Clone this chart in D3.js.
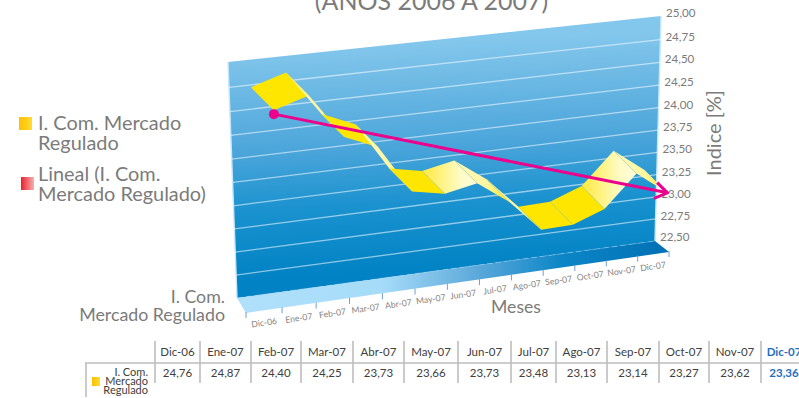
<!DOCTYPE html>
<html>
<head>
<meta charset="utf-8">
<script src="https://cdn.jsdelivr.net/npm/d3@7"></script>
<style>
html,body{margin:0;padding:0;background:#fff;overflow:hidden}
svg{display:block}
text{font-family:Lato,"Open Sans",sans-serif}
</style>
</head>
<body>
<svg id="chart" width="799" height="398"></svg>
<script>
// Monthly index values
const months = ["Dic-06","Ene-07","Feb-07","Mar-07","Abr-07","May-07","Jun-07","Jul-07","Ago-07","Sep-07","Oct-07","Nov-07","Dic-07"];
const values = [24.76,24.87,24.40,24.25,23.73,23.66,23.73,23.48,23.13,23.14,23.27,23.62,23.36];
const valueLabels = ["24,76","24,87","24,40","24,25","23,73","23,66","23,73","23,48","23,13","23,14","23,27","23,62","23,36"];
const yTicks = [25,24.75,24.5,24.25,24,23.75,23.5,23.25,23,22.75,22.5];
const trendEnds = [24.72,23.36];

const svg = d3.select("#chart");
const defs = svg.append("defs");
const GREY = "#7b7b7b";

// Perspective of the chart box: back wall, floor, and ribbon depth
const yMax = 25, yMin = 22.5;
const uScale = d3.scalePow().exponent(.96).domain([0,13]).range([0,1]);
const leftY = d3.scalePow().exponent(.97).domain([0,yMax-yMin]).range([62,298]);
const rightY = d3.scalePow().exponent(.98).domain([0,yMax-yMin]).range([16,241]);
const leftX = d3.scaleLinear().domain([yMax,yMin]).range([228,237]);
const rightX = d3.scaleLinear().domain([yMax,yMin]).range([661,655]);
const depth = d3.scaleLinear().domain([0,1]).range([0,26]);
const frontX = d3.scalePow().exponent(.96).domain([0,13]).range([246,669]);
const frontY = d3.scaleLinear().domain([0,13]).range([313,252]);

function project(i,v,z=0){
  const u = uScale(i), d = yMax-v;
  const xl = leftX(v), xr = rightX(v);
  return [xl+(xr-xl)*u+depth(z), leftY(d)+(rightY(d)-leftY(d))*u+depth(z)];
}
const poly = pts => "M"+pts.map(p=>p.join(",")).join("L")+"Z";

function linGrad(id,attrs,stops){
  const g = defs.append("linearGradient").attr("id",id);
  Object.entries(attrs).forEach(([k,v])=>g.attr(k,v));
  stops.forEach(([o,c])=>g.append("stop").attr("offset",o).attr("stop-color",c));
}
linGrad("wallFill",{gradientUnits:"userSpaceOnUse",x1:440,y1:40,x2:450,y2:272},
  [[0,"#84c7ec"],[.45,"#4ba5da"],[.7,"#1a92cf"],[1,"#0082c4"]]);
linGrad("floorFill",{gradientUnits:"userSpaceOnUse",x1:240,y1:0,x2:669,y2:0},
  [[0,"#b0e0fb"],[.33,"#a6dcf9"],[.55,"#5da9da"],[.75,"#0c86c7"],[1,"#0070b4"]]);
linGrad("rising",{},[[0,"#ffe93c"],[.7,"#fffbc6"],[1,"#fffcd8"]]);
linGrad("falling",{},[[0,"#fff9bc"],[.6,"#fff6a0"],[1,"#ffe600"]]);
linGrad("swatchBar",{},[[0,"#ffbf00"],[1,"#ffdc30"]]);
linGrad("swatchLine",{},[[0,"#e9202c"],[1,"#f8b0b0"]]);

// Back wall
const wall = [project(0,yMax),project(13,yMax),project(13,yMin),project(0,yMin)];
svg.append("path").attr("d",poly(wall)).attr("fill","url(#wallFill)");
defs.append("clipPath").attr("id","wallClip").append("path").attr("d",poly(wall));

// Floor
const floorPts = [project(0,yMin),project(13,yMin),[frontX(13),frontY(13)],[frontX(0),frontY(0)]];
svg.append("path").attr("d",poly(floorPts)).attr("fill","url(#floorFill)");

// Wall edges
svg.selectAll("line.edge").data([0,13]).join("line").attr("class","edge")
  .attr("x1",i=>project(i,yMax)[0]).attr("y1",i=>project(i,yMax)[1])
  .attr("x2",i=>project(i,yMin)[0]).attr("y2",i=>project(i,yMin)[1])
  .attr("stroke","#c4e8fb").attr("stroke-width",1.4);

// Gridlines
svg.selectAll("line.grid").data(yTicks.slice(1,-1)).join("line").attr("class","grid")
  .attr("x1",v=>project(0,v)[0]).attr("y1",v=>project(0,v)[1])
  .attr("x2",v=>project(13,v)[0]).attr("y2",v=>project(13,v)[1])
  .attr("stroke","#fff").attr("stroke-opacity",.55).attr("stroke-width",1.3);
svg.append("line")
  .attr("x1",project(0,yMin)[0]).attr("y1",project(0,yMin)[1])
  .attr("x2",project(13,yMin)[0]).attr("y2",project(13,yMin)[1])
  .attr("stroke","#9fd4f2").attr("stroke-opacity",.5).attr("stroke-dasharray","6 3");

// Y tick labels
svg.selectAll("text.yt").data(yTicks).join("text").attr("class","yt")
  .attr("x",v=>project(13,v)[0]+5)
  .attr("y",v=>project(13,v)[1]+(v===yMin?0:1))
  .attr("font-size",11.6).attr("fill",GREY)
  .text(v=>d3.format(".2f")(v).replace(".",","));

// Floor ticks and month labels
svg.selectAll("line.xt").data(d3.range(14)).join("line").attr("class","xt")
  .attr("x1",i=>frontX(i)).attr("x2",i=>frontX(i))
  .attr("y1",i=>frontY(i)-1).attr("y2",i=>frontY(i)+5)
  .attr("stroke","#6c9fd8").attr("stroke-width",1);
const edgeAngle = Math.atan2(frontY(13)-frontY(0),frontX(13)-frontX(0))*180/Math.PI;
svg.selectAll("text.xl").data(months).join("text").attr("class","xl")
  .attr("transform",(m,i)=>`translate(${frontX(i+.5)},${frontY(i+.5)+15}) rotate(${edgeAngle})`)
  .attr("text-anchor","middle").attr("font-size",8.6).attr("fill","#858585")
  .text(m=>m);

// Ribbon
const flatSteps = new Set(["Dic-06","Feb-07","Abr-07","Ago-07","Sep-07"]);
const ribbon = svg.append("g").attr("clip-path","url(#wallClip)");
const BACK = .12, FRONT = 1;
const steps = d3.pairs(values.map((v,i)=>({v,i,m:months[i]})));
ribbon.selectAll("path").data(steps).join("path")
  .attr("d",([a,b])=>poly([
    project(a.i+.5,a.v,BACK),project(b.i+.5,b.v,BACK),
    project(b.i+.5,b.v,FRONT),project(a.i+.5,a.v,FRONT)]))
  .attr("fill",([a,b])=>flatSteps.has(a.m)?"#ffe600":(b.v>a.v?"url(#rising)":"url(#falling)"));
ribbon.selectAll("line").data(values.slice(1,-1).map((v,k)=>({v,i:k+1}))).join("line")
  .attr("x1",d=>project(d.i+.5,d.v,BACK)[0]).attr("y1",d=>project(d.i+.5,d.v,BACK)[1])
  .attr("x2",d=>project(d.i+.5,d.v,FRONT)[0]).attr("y2",d=>project(d.i+.5,d.v,FRONT)[1])
  .attr("stroke","#b9d68e").attr("stroke-opacity",.7).attr("stroke-width",.8);

// Linear trend
const trendStart = project(.5,trendEnds[0],1), trendEnd = project(12.5,trendEnds[1],1);
defs.append("marker").attr("id","openArrow").attr("markerUnits","userSpaceOnUse")
  .attr("viewBox","-16 -10 18 20").attr("markerWidth",18).attr("markerHeight",20)
  .attr("refX",0).attr("refY",0).attr("orient","auto")
  .append("path").attr("d","M-12,-8L0,0L-12,8").attr("fill","none")
  .attr("stroke","#ec008c").attr("stroke-width",3);
svg.append("line").attr("x1",trendStart[0]).attr("y1",trendStart[1])
  .attr("x2",trendEnd[0]).attr("y2",trendEnd[1])
  .attr("stroke","#ec008c").attr("stroke-width",3).attr("marker-end","url(#openArrow)");
svg.append("circle").attr("cx",trendStart[0]).attr("cy",trendStart[1]).attr("r",5).attr("fill","#ec008c");

// Title and axis titles
svg.append("text").attr("x",431.5).attr("y",10).attr("text-anchor","middle")
  .attr("font-size",25).attr("fill",GREY).text("(AÑOS 2006 A 2007)");
svg.append("text").attr("transform","translate(721,133) rotate(-90)").attr("text-anchor","middle")
  .attr("font-size",20).attr("fill",GREY).text("Indice [%]");
svg.append("text").attr("x",516).attr("y",313).attr("text-anchor","middle")
  .attr("font-size",17.6).attr("fill",GREY).text("Meses");
svg.selectAll("text.ser").data(["I. Com.","Mercado Regulado"]).join("text").attr("class","ser")
  .attr("x",225).attr("y",(d,i)=>303+i*17.5).attr("text-anchor","end")
  .attr("font-size",17.8).attr("fill",GREY).text(d=>d);

// Legend
const legendEntries = [
  {fill:"url(#swatchBar)",sx:19,sy:117,lines:["I. Com. Mercado","Regulado"],y:130},
  {fill:"url(#swatchLine)",sx:21,sy:177,lines:["Lineal (I. Com.","Mercado Regulado)"],y:181}
];
const lg = svg.selectAll("g.lg").data(legendEntries).join("g").attr("class","lg");
lg.append("rect").attr("x",d=>d.sx).attr("y",d=>d.sy).attr("width",13).attr("height",13).attr("fill",d=>d.fill);
lg.selectAll("text").data(d=>d.lines.map((t,i)=>({t,y:d.y+i*20}))).join("text")
  .attr("x",38).attr("y",d=>d.y).attr("font-size",19.9).attr("fill",GREY).text(d=>d.t);

// Data table
const colEdges = [155,200,251,301,353,404,458,511,556,607,659,709,761];
const tbl = svg.append("g");
tbl.selectAll("line.v").data(colEdges).join("line").attr("class","v")
  .attr("x1",d=>d).attr("x2",d=>d).attr("y1",341).attr("y2",383)
  .attr("stroke","#bdbdbd").attr("stroke-width",1.6);
tbl.append("line").attr("x1",85).attr("x2",799).attr("y1",363).attr("y2",363).attr("stroke","#bdbdbd").attr("stroke-width",1.6);
tbl.append("line").attr("x1",86).attr("x2",86).attr("y1",363).attr("y2",397).attr("stroke","#bdbdbd").attr("stroke-width",1.6);
const colCenter = i => (colEdges[i]+(i<12?colEdges[i+1]:807))/2;
const cellColor = i => i===12?"#1f6fbf":"#404040";
tbl.selectAll("text.h").data(months).join("text").attr("class","h")
  .attr("x",(d,i)=>colCenter(i)).attr("y",356).attr("text-anchor","middle")
  .attr("font-size",11.5).attr("font-weight",(d,i)=>i===12?700:400).attr("fill",(d,i)=>cellColor(i)).text(d=>d);
tbl.selectAll("text.c").data(valueLabels).join("text").attr("class","c")
  .attr("x",(d,i)=>colCenter(i)).attr("y",377).attr("text-anchor","middle")
  .attr("font-size",11.5).attr("font-weight",(d,i)=>i===12?700:400).attr("fill",(d,i)=>cellColor(i)).text(d=>d);
tbl.selectAll("text.rl").data(["I. Com.","Mercado","Regulado"]).join("text").attr("class","rl")
  .attr("x",148).attr("y",(d,i)=>376+i*9).attr("text-anchor","end")
  .attr("font-size",11).attr("fill","#404040").text(d=>d);
tbl.append("rect").attr("x",92).attr("y",377).attr("width",8).attr("height",9).attr("fill","url(#swatchBar)");
</script>
</body>
</html>
